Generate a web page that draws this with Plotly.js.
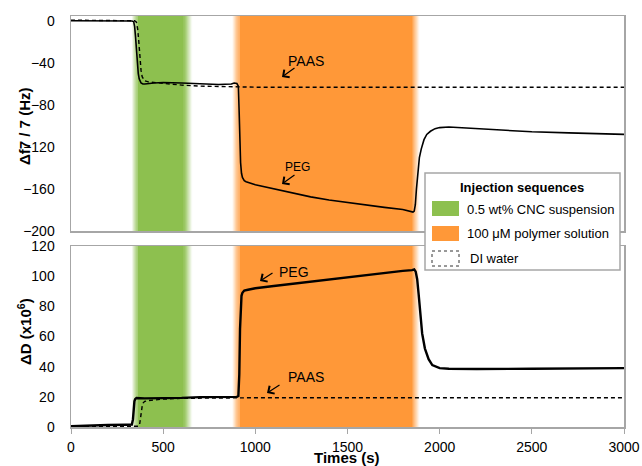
<!DOCTYPE html>
<html>
<head>
<meta charset="utf-8">
<script src="https://cdn.plot.ly/plotly-3.0.1.min.js"></script>
<style>html,body{margin:0;padding:0;background:#fff;}#chart{width:642px;height:466px;}</style>
</head>
<body>
<div id="chart"></div>
<script>
// ---- Data ----
// Top panel: frequency shift Δf7/7 (Hz)
const tPegF = [0,100,200,300,330,340,345,350,355,360,365,370,380,390,400,450,500,600,700,800,870,885,900,908,912,916,920,925,930,940,950,1000,1100,1200,1300,1400,1500,1600,1700,1800,1840,1855,1862,1868,1874,1880,1890,1900,1915,1930,1950,1975,2000,2050,2100,2200,2300,2500,2700,3000];
const fPeg  = [0.3,0.3,0.2,0.2,0.1,-0.5,-5,-15,-30,-42,-50,-55,-59,-60,-60,-59,-58.5,-59,-60,-60.5,-60,-59,-59.5,-62,-85,-115,-135,-145,-149,-152,-153,-156,-160,-164,-167.5,-170.5,-173,-175.5,-177.5,-179.5,-181,-182,-181,-175,-160,-145,-130,-122,-113,-108,-105,-102.5,-101.5,-101,-101.5,-102.5,-103.5,-105.5,-106.5,-108];
const tPaasF = [0,100,200,300,345,355,362,368,372,376,380,386,392,400,420,450,500,600,700,800,900,1000,1500,2000,2500,3000];
const fPaas  = [0.8,0.6,0.5,0.4,0.3,-1,-8,-20,-30,-40,-47,-53,-55.5,-57,-58,-58.5,-59.5,-61,-62,-62.5,-62.8,-63,-63,-63,-63,-63];
// Bottom panel: dissipation ΔD (x10^6)
const tPegD = [0,100,200,300,330,336,340,344,348,355,400,500,600,700,800,900,908,913,917,921,925,930,940,960,1000,1100,1200,1300,1400,1500,1600,1700,1800,1850,1862,1870,1878,1886,1895,1905,1920,1940,1960,1985,2000,2050,2100,2200,2500,2800,3000];
const dPeg  = [0.5,1,1.3,1.5,1.6,5,13,17,18.5,19.2,19,19,19.3,19.8,19.8,20,20.5,35,65,82,87,89,90.5,91,92,93.5,95,96.5,98,99.5,100.5,102,103.5,104,104.5,103,98,88,75,62,52,45,41,39.5,39,38.6,38.5,38.5,38.6,38.8,39];
const tPaasD = [0,100,200,300,365,372,377,382,387,392,400,420,450,500,600,700,800,900,1000,1500,2000,2500,3000];
const dPaas  = [0.5,0.5,0.5,0.5,0.5,1.5,6,11,14.5,16,17,17.5,18,18.5,19,19.2,19.3,19.4,19.4,19.4,19.4,19.4,19.4];
// Injection windows (s)
const cncWindow = [345, 635];
const polyWindow = [895, 1870];
const xTicks = [0,500,1000,1500,2000,2500,3000];
const topTicks = [0,-40,-80,-120,-160,-200];
const botTicks = [0,20,40,60,80,100,120];

// ---- Layout helpers ----
const W = 642, H = 466;
const px = v => v / W;
const py = v => 1 - v / H;
const GREEN = '#8DC04F', ORANGE = '#FF9838';

function band(win, color, fadeL, fadeR, yref) {
  const out = [];
  const n = 8;
  out.push({type:'rect', xref:'x', yref:yref, x0:win[0]+fadeL/2, x1:win[1]-fadeR/2, y0:0, y1:1, fillcolor:color, line:{width:0}, layer:'below'});
  for (let i = 0; i < n; i++) {
    const a = (i + 0.5) / n;
    const sL = fadeL / n;
    out.push({type:'rect', xref:'x', yref:yref, x0:win[0]-fadeL/2+i*sL, x1:win[0]-fadeL/2+(i+1)*sL, y0:0, y1:1, fillcolor:color, opacity:a, line:{width:0}, layer:'below'});
    const sR = fadeR / n;
    out.push({type:'rect', xref:'x', yref:yref, x0:win[1]+fadeR/2-(i+1)*sR, x1:win[1]+fadeR/2-i*sR, y0:0, y1:1, fillcolor:color, opacity:a, line:{width:0}, layer:'below'});
  }
  return out;
}

const shapes = [].concat(
  band(cncWindow, GREEN, 30, 45, 'y domain'),
  band(polyWindow, ORANGE, 40, 40, 'y domain'),
  band(cncWindow, GREEN, 30, 45, 'y2 domain'),
  band(polyWindow, ORANGE, 40, 40, 'y2 domain')
);
// legend box
shapes.push({type:'rect', xref:'paper', yref:'paper', x0:px(425), x1:px(620), y0:py(270), y1:py(173), fillcolor:'#fff', line:{color:'#a6a6a6', width:1.5}, layer:'above'});
shapes.push({type:'rect', xref:'paper', yref:'paper', x0:px(432), x1:px(459), y0:py(216), y1:py(201), fillcolor:GREEN, line:{width:0}, layer:'above'});
shapes.push({type:'rect', xref:'paper', yref:'paper', x0:px(432), x1:px(459), y0:py(241), y1:py(226), fillcolor:ORANGE, line:{width:0}, layer:'above'});
shapes.push({type:'rect', xref:'paper', yref:'paper', x0:px(432), x1:px(459), y0:py(266), y1:py(251), fillcolor:'#fff', line:{color:'#333', width:1, dash:'dot'}, layer:'above'});

const FONT = 'Liberation Sans, Arial, sans-serif';
function txt(x, y, t, size, opts) {
  return Object.assign({xref:'paper', yref:'paper', x:px(x), y:py(y), text:t, showarrow:false, font:{family:FONT, size:size, color:'#000'}, xanchor:'center', yanchor:'middle'}, opts||{});
}
function arrow(hx, hy, tx, ty) {
  return {xref:'paper', yref:'paper', x:px(hx), y:py(hy), ax:tx-hx, ay:ty-hy, text:' ', font:{size:1}, showarrow:true, arrowhead:4, arrowsize:1.5, arrowwidth:1.2, arrowcolor:'#000', standoff:0, startstandoff:0};
}

const annotations = [
  txt(24, 126, '<b>Δf7 / 7 (Hz)</b>', 15, {textangle:-90}),
  txt(24, 331, '<b>ΔD (x10<sup>6</sup>)</b>', 15, {textangle:-90}),
  txt(347, 457, '<b>Times (s)</b>', 15),
  txt(522, 187, '<b>Injection sequences</b>', 13),
  txt(465, 209, '0.5 wt% CNC suspension', 13, {xanchor:'left'}),
  txt(465, 233, '100 μM polymer solution', 13, {xanchor:'left'}),
  txt(468, 258, 'DI water', 13, {xanchor:'left'}),
  txt(306, 61, 'PAAS', 14),
  arrow(282, 77, 296, 67),
  txt(297, 167, 'PEG', 12),
  arrow(282, 184, 296, 174),
  txt(294, 272, 'PEG', 14),
  arrow(260, 281, 274, 272),
  txt(306, 377, 'PAAS', 14),
  arrow(267, 393, 281, 384)
];

const traces = [
  {x:tPegF, y:fPeg, xaxis:'x', yaxis:'y', mode:'lines', line:{color:'#000', width:1.6}, name:'PEG Δf'},
  {x:tPaasF, y:fPaas, xaxis:'x', yaxis:'y', mode:'lines', line:{color:'#000', width:1.4, dash:'4px,3px'}, name:'PAAS Δf'},
  {x:tPegD, y:dPeg, xaxis:'x2', yaxis:'y2', mode:'lines', line:{color:'#000', width:2.4}, name:'PEG ΔD'},
  {x:tPaasD, y:dPaas, xaxis:'x2', yaxis:'y2', mode:'lines', line:{color:'#000', width:1.4, dash:'4px,3px'}, name:'PAAS ΔD'}
];

const axisBase = {showgrid:false, zeroline:false, showline:true, mirror:true, linecolor:'#a6a6a6', linewidth:1.5, tickfont:{family:FONT, size:14, color:'#000'}};
const layout = {
  width:W, height:H, margin:{l:0, r:0, t:0, b:0},
  paper_bgcolor:'#fff', plot_bgcolor:'#fff', showlegend:false,
  xaxis: Object.assign({}, axisBase, {domain:[px(71), px(624)], range:[0,3000], anchor:'y', tickvals:xTicks, showticklabels:false, ticks:''}),
  yaxis: Object.assign({}, axisBase, {domain:[py(231), py(16)], range:[-200, 4.8], anchor:'x', tickvals:topTicks, ticks:'', ticklabelstandoff:12}),
  xaxis2: Object.assign({}, axisBase, {domain:[px(71), px(624)], range:[0,3000], anchor:'y2', tickvals:xTicks, ticks:'outside', ticklen:5, tickcolor:'#a6a6a6', ticklabelstandoff:2}),
  yaxis2: Object.assign({}, axisBase, {domain:[py(427), py(246)], range:[0,120], anchor:'x2', tickvals:botTicks, ticks:'', ticklabelstandoff:12}),
  shapes: shapes,
  annotations: annotations
};

Plotly.newPlot('chart', traces, layout, {displayModeBar:false, staticPlot:true});
</script>
</body>
</html>
